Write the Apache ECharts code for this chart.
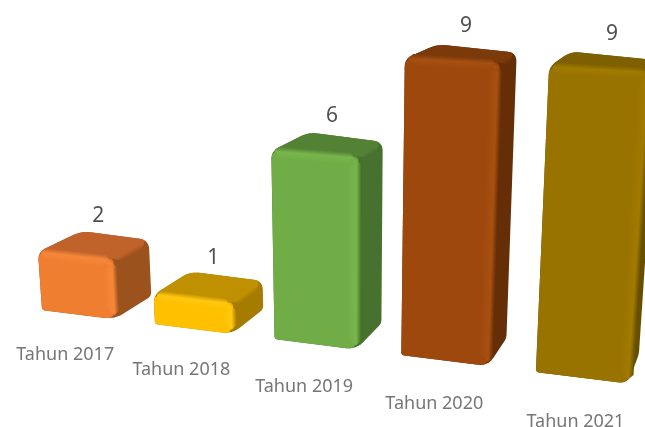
<!DOCTYPE html>
<html>
<head>
<meta charset="utf-8">
<style>html,body{margin:0;padding:0;background:#fff}#c{width:645px;height:427px}</style>
<script src="https://cdn.jsdelivr.net/npm/echarts@6/dist/echarts.min.js"></script>
</head>
<body>
<div id="c"></div>
<script>
var categories = ['Tahun 2017', 'Tahun 2018', 'Tahun 2019', 'Tahun 2020', 'Tahun 2021'];
var values = [2, 1, 6, 9, 9];
var frontColors = ['#F07E31', '#FFC000', '#70AD47', '#9E480E', '#997300'];
var lightColors = ['#F6873A', '#FFC810', '#78B64C', '#A85010', '#A17A00'];
var topColors = ['#C0632A', '#BF9000', '#548235', '#7C3A0B', '#7F6000'];
var sideColors = ['#9C521C', '#A67C00', '#46712F', '#662E07', '#665000'];

var barFraction = 0.65;
var BASE_X = 42, BASE_Y = 310;

// Perspective view of the chart plane: grid pixel + depth -> canvas pixel
function project(x, y, t) {
  var dx = x - BASE_X, dy = BASE_Y - y, r = 0.054;
  var w = 1 - 0.0002535 * dx - 0.000213 * dy + r * t;
  return [
    (x - 0.0745 * dy + 816 * r * t) / w,
    (y + 0.0483 * dx - 123 * r * t) / w
  ];
}
function lerp(a, b, f) { return [a[0] + (b[0] - a[0]) * f, a[1] + (b[1] - a[1]) * f]; }
function dist(a, b) { return Math.hypot(a[0] - b[0], a[1] - b[1]); }
function toward(a, b, d) { return lerp(a, b, Math.min(0.5, d / dist(a, b))); }
function rounded(pts, radii) {
  var out = [], n = pts.length;
  pts.forEach(function (p, i) {
    var s = toward(p, pts[(i + n - 1) % n], radii[i]);
    var e = toward(p, pts[(i + 1) % n], radii[i]);
    for (var k = 0; k <= 6; k++) {
      var f = k / 6, a = lerp(s, p, f), b = lerp(p, e, f);
      out.push(lerp(a, b, f));
    }
  });
  return out;
}
function grad(a, b, stops) {
  return {
    type: 'linear', global: true, x: a[0], y: a[1], x2: b[0], y2: b[1],
    colorStops: stops.map(function (s) { return { offset: s[0], color: s[1] }; })
  };
}
function poly(points, fill) {
  return { type: 'polygon', shape: { points: points }, style: { fill: fill }, silent: true };
}
// A tapered strip straddling the edge p->q, blended across it
function strip(p, q, side, out, inn, stops) {
  var len = dist(p, q), ux = (q[0] - p[0]) / len, uy = (q[1] - p[1]) / len;
  var nx = -uy, ny = ux;
  if (nx * side[0] + ny * side[1] < 0) { nx = -nx; ny = -ny; }
  var m = lerp(p, q, 0.5);
  function at(base, along, across) {
    return [base[0] + ux * along + nx * across, base[1] + uy * along + ny * across];
  }
  return poly(
    [p, at(p, out, out), at(q, -out, out), q, at(q, -inn, -inn), at(p, inn, -inn)],
    grad(at(m, 0, out), at(m, 0, -inn), stops)
  );
}

function renderBar(params, api) {
  var i = api.value(0), v = api.value(1);
  var base = api.coord([i, 0]), top = api.coord([i, v]);
  var half = api.size([1, 0])[0] * barFraction / 2;
  var xl = base[0] - half, xr = base[0] + half, y0 = base[1], yt = top[1];

  var FBL = project(xl, y0, 0), FBR = project(xr, y0, 0), FTR = project(xr, yt, 0), FTL = project(xl, yt, 0);
  var BBR = project(xr, y0, 1), BTR = project(xr, yt, 1), BTL = project(xl, yt, 1 + 0.04 * v);

  var front = frontColors[i], light = lightColors[i], topC = topColors[i], side = sideColors[i];
  var kids = [];
  kids.push(poly(rounded([FBL, FBR, BBR, BTR, BTL, FTL], [3, 10, 4, 9, 9, 8]), side));
  kids.push(poly(rounded([FTL, FTR, BTR, BTL], [8, 6, 9, 9]), topC));
  kids.push(poly(rounded([FBL, FBR, FTR, FTL], [3, 9, 5, 8]), front));

  // soft bevels along the front and top edges
  kids.push(strip(toward(FTL, FTR, 3), toward(FTR, FTL, 2), [0, -1], 5, 7, [[0, topC], [0.42, light], [1, front]]));
  kids.push(strip(toward(FTR, FBR, 2), toward(FBR, FTR, 4), [1, 0], 5, 9, [[0, side], [0.35, light], [1, front]]));
  kids.push(strip(toward(FTR, BTR, 3), toward(BTR, FTR, 5), [1, 1], 5, 5, [[0, side], [0.5, topC], [1, topC]]));

  var spot = [FTR[0] - 2, FTR[1] + 3];
  kids.push({
    type: 'circle', shape: { cx: spot[0], cy: spot[1], r: 4 }, silent: true,
    style: { fill: { type: 'radial', x: 0.5, y: 0.5, r: 0.5, colorStops: [
      { offset: 0, color: light }, { offset: 1, color: front } ] }, opacity: 0.85 }
  });

  var topMid = project(base[0], yt, 0.5);
  kids.push({
    type: 'text', silent: true, x: topMid[0] + 4 + (i === 4 ? 3 : 0), y: topMid[1] - 30,
    style: { text: String(v), fill: '#505050', font: '21px "Noto Sans"', align: 'center', verticalAlign: 'middle' }
  });
  var foot = project(base[0] - 12.5, y0, 0);
  kids.push({
    type: 'text', silent: true, x: foot[0] + 1.8 * i + (i === 4 ? 3 : 0), y: foot[1] + 42 + i,
    style: { text: categories[i], fill: '#767676', font: '18px "Noto Sans"', align: 'center', verticalAlign: 'middle' }
  });
  return { type: 'group', children: kids };
}

var chart = echarts.init(document.getElementById('c'), null, { renderer: 'canvas' });
chart.setOption({
  animation: false,
  backgroundColor: '#ffffff',
  grid: { left: 23, top: 4, width: 543.5, height: 306 },
  xAxis: { type: 'category', data: categories, show: false },
  yAxis: { type: 'value', min: 0, max: 10, interval: 1, show: false },
  series: [{
    type: 'custom',
    clip: false,
    renderItem: renderBar,
    encode: { x: 0, y: 1 },
    data: values.map(function (v, i) { return [i, v]; })
  }]
});
</script>
</body>
</html>
